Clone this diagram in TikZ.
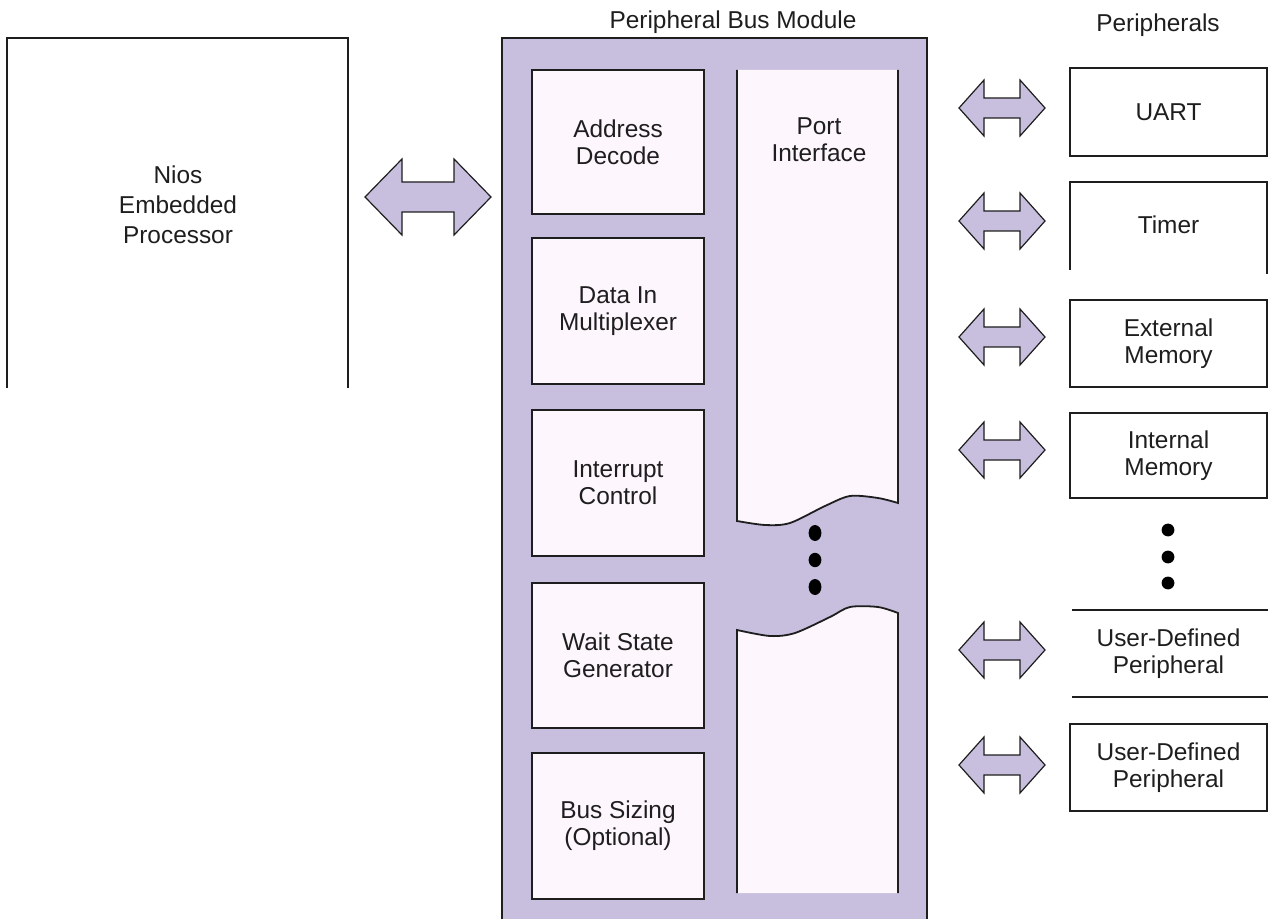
\documentclass[tikz,border=0pt]{standalone}
\usepackage{fontspec}
\setmainfont{Liberation Sans}
\definecolor{lav}{RGB}{200,191,222}
\definecolor{inner}{RGB}{253,246,253}
\definecolor{ink}{RGB}{30,30,30}
\tikzset{
  blk/.style={draw=ink, line width=0.9pt, fill=inner, align=center, inner sep=0pt},
  pbox/.style={draw=ink, line width=0.8pt, fill=white, align=center, inner sep=0pt},
  lbl/.style={align=center, text=ink, font=\fontsize{12.2}{13.5}\selectfont},
  edge/.style={draw=ink, line width=0.9pt},
  arrowstyle/.style={fill=lav, draw=ink, line width=0.6pt, line join=miter},
  pics/dblarrow/.style n args={4}{code={
    \filldraw[arrowstyle] (-#1,0) -- (-#1+#2,-#3) -- (-#1+#2,-#4) -- (#1-#2,-#4)
      -- (#1-#2,-#3) -- (#1,0) -- (#1-#2,#3) -- (#1-#2,#4) -- (-#1+#2,#4)
      -- (-#1+#2,#3) -- cycle;}}
}
\begin{document}
\begin{tikzpicture}[x=0.5pt,y=-0.5pt, every node/.style={lbl}]
\useasboundingbox (0,0) rectangle (1268,919);
% Nios processor
\draw[edge] (7,388) |- (348,38) -- (348,388);
\node[font=\fontsize{12.2}{15}\selectfont] (nios) at (178,205) {Nios\\Embedded\\Processor};
% Peripheral bus module
\fill[lav] (502,38) rectangle (927,919);
\draw[edge] (502,919) |- (927,38) -- (927,919);
\node (pbmt) at (733,22) {Peripheral Bus Module};
% left column blocks
\node[blk, minimum width=86pt, minimum height=72pt, lbl] (addr) at (618,142) {Address\\Decode};
\node[blk, minimum width=86pt, minimum height=73pt, lbl] (dmux) at (618,311) {Data In\\Multiplexer};
\node[blk, minimum width=86pt, minimum height=73pt, lbl] (intc) at (618,483) {Interrupt\\Control};
\node[blk, minimum width=86pt, minimum height=72.5pt, lbl] (wait) at (618,655.5) {Wait State\\Generator};
\node[blk, minimum width=86pt, minimum height=73pt, lbl] (bsz) at (618,826) {Bus Sizing\\(Optional)};
% port interface (broken column)
\fill[inner] (737,70) -- plot[smooth] coordinates {(737,521) (765,525) (790,523) (825,506) (850,496) (878,498) (898,503)} -- (898,70) -- cycle;
\draw[edge] (737,70) -- plot[smooth] coordinates {(737,521) (765,525) (790,523) (825,506) (850,496) (878,498) (898,503)} -- (898,70);
\fill[inner] (737,893) -- plot[smooth] coordinates {(737,630) (770,636) (795,633) (830,617) (850,607) (878,607) (898,613)} -- (898,893) -- cycle;
\draw[edge] (737,893) -- plot[smooth] coordinates {(737,630) (770,636) (795,633) (830,617) (850,607) (878,607) (898,613)} -- (898,893);
\node (port) at (819,140) {Port\\Interface};
\fill[black] (815,533) ellipse [x radius=3.2pt, y radius=4pt];
\fill[black] (815,560) ellipse [x radius=3.2pt, y radius=3.6pt];
\fill[black] (815,587) ellipse [x radius=3.2pt, y radius=4pt];
% main bus arrow
\coordinate (abus) at (428,197);
\pic at (abus) {dblarrow={63}{37}{38}{15}};
% peripherals
\node (pert) at (1158,25) {Peripherals};
\node[pbox, minimum width=98.5pt, minimum height=44pt, lbl] (uart) at (1168.5,112) {UART};
\draw[edge, line width=0.8pt] (1070,270) |- (1267,182) -- (1267,274);
\node (timer) at (1168.5,225) {Timer};
\node[pbox, minimum width=98.5pt, minimum height=43.5pt, lbl] (extm) at (1168.5,343.5) {External\\Memory};
\node[pbox, minimum width=98.5pt, minimum height=42.5pt, lbl] (intm) at (1168.5,455.5) {Internal\\Memory};
\fill[black] (1168,530) circle [radius=3.2pt];
\fill[black] (1168,557) circle [radius=3.2pt];
\fill[black] (1168,583) circle [radius=3.2pt];
\draw[edge, line width=0.8pt] (1072,610) -- (1268,610);
\draw[edge, line width=0.8pt] (1072,697) -- (1268,697);
\node (ud1) at (1168.5,653.5) {User-Defined\\Peripheral};
\node[pbox, minimum width=98.5pt, minimum height=43.5pt, lbl] (ud2) at (1168.5,767.5) {User-Defined\\Peripheral};
% peripheral arrows
\coordinate (a1) at (1002,108);
\coordinate (a2) at (1002,221);
\coordinate (a3) at (1002,337);
\coordinate (a4) at (1002,450);
\coordinate (a5) at (1002,650);
\coordinate (a6) at (1002,765);
\foreach \c in {a1,a2,a3,a4,a5,a6}{\pic at (\c) {dblarrow={43}{25}{28}{10}};}
\end{tikzpicture}
\end{document}
